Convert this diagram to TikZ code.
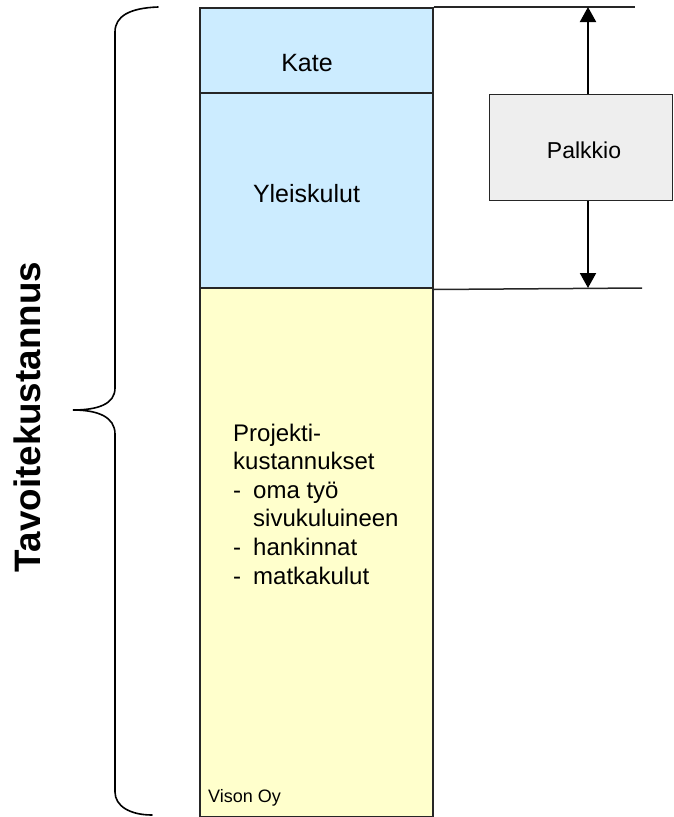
\documentclass[tikz,border=0pt]{standalone}
\usepackage{fontspec}
\setmainfont{Liberation Sans}
\usetikzlibrary{arrows.meta}
\definecolor{boxblue}{HTML}{CCECFF}
\definecolor{boxyellow}{HTML}{FFFFCC}
\definecolor{boxgray}{HTML}{EEEEEE}
\begin{document}
\begin{tikzpicture}[x=1pt,y=-1pt,
  part/.style={draw=black!85, line width=1.5pt, inner sep=0pt, anchor=north west},
  lbl/.style={inner sep=0pt, anchor=base},
  rule/.style={draw=black!85, line width=1.5pt},
  arr/.style={line width=2pt, -{Triangle[length=15pt,width=16pt]}},
  brace/.style={line width=1.6pt, line cap=round}]
\useasboundingbox (0,0) rectangle (673,817);
% column
\node[part, fill=boxyellow, minimum width=233pt, minimum height=529pt] (proj) at (199,287) {};
\node[part, fill=boxblue, minimum width=233pt, minimum height=195pt] (yleis) at (199,92) {};
\node[part, fill=boxblue, minimum width=233pt, minimum height=85pt] (kate) at (199,7) {};
% labels
\node[lbl, font=\fontsize{25}{30}\selectfont] (katet) at (307,71) {Kate};
\node[lbl, font=\fontsize{25}{30}\selectfont] (yleist) at (306.5,202) {Yleiskulut};
\begin{scope}[every node/.style={inner sep=0pt, anchor=base west, font=\fontsize{24}{28.6}\selectfont}]
\node (p1) at (233,441) {Projekti-};
\node (p2) at (233,469.6) {kustannukset};
\node (p3) at (233,498.2) {\makebox[20pt][l]{-}oma työ};
\node (p4) at (253,526.8) {sivukuluineen};
\node (p5) at (233,555.4) {\makebox[20pt][l]{-}hankinnat};
\node (p6) at (233,584) {\makebox[20pt][l]{-}matkakulut};
\end{scope}
\node[inner sep=0pt, anchor=base west, font=\fontsize{18}{22}\selectfont] (vison) at (208,802) {Vison Oy};
% right side
\coordinate (ttop) at (635,7);
\coordinate (tbot) at (642,288);
\coordinate (atop) at (588,7);
\coordinate (abot) at (588,288);
\draw[rule] (kate.north east) -- (ttop);
\draw[rule] (yleis.south east) ++(0,1) -- (tbot);
\node[draw=black!85, line width=1pt, fill=boxgray, inner sep=0pt, anchor=north west,
      minimum width=183pt, minimum height=106pt] (palk) at (489,94) {};
\node[lbl, font=\fontsize{23}{28}\selectfont] (palkt) at (584,158) {Palkkio};
\draw[arr] (palk.north -| atop) -- (atop);
\draw[arr] (palk.south -| abot) -- (abot);
% brace
\coordinate (bt) at (158,7);
\coordinate (bb) at (152,815);
\coordinate (btip) at (73,410);
\draw[brace] (bt) .. controls (130,8) and (115,16) .. (115,32)
  -- (115,388) .. controls (115,404) and (98,410) .. (btip)
  .. controls (98,410) and (115,417) .. (115,434)
  -- (115,792) .. controls (115,806) and (130,815) .. (bb);
\node[rotate=90, inner sep=0pt, font=\fontsize{36.8}{40}\selectfont\bfseries] (tav) at (27.5,417) {Tavoitekustannus};
\end{tikzpicture}
\end{document}
